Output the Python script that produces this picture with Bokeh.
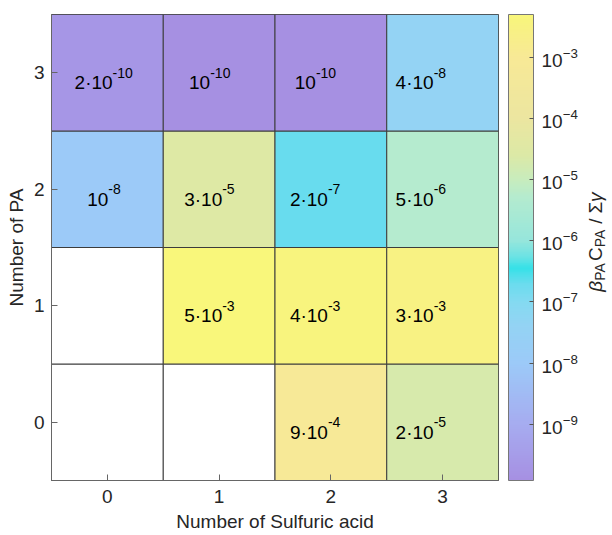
import math
import numpy as np
from bokeh.plotting import figure
from bokeh.layouts import row
from bokeh.models import (ColumnDataSource, LogColorMapper, ColorBar, FixedTicker, Range1d,
                          LogTickFormatter)
from bokeh.core.properties import value
from bokeh.embed import file_html
from bokeh.resources import INLINE

# ---------------- data ----------------
n_sulfuric = [0, 1, 2, 3]          # x categories
n_pa = [0, 1, 2, 3]                # y categories
# beta_PA C_PA / sum(gamma) for each number of PA (rows), per number of sulfuric acid (columns)
ratio_pa0 = [np.nan, np.nan, 9e-4, 2e-5]
ratio_pa1 = [np.nan, 5e-3, 4e-3, 3e-3]
ratio_pa2 = [1e-8, 3e-5, 2e-7, 5e-6]
ratio_pa3 = [2e-10, 1e-10, 1e-10, 4e-8]
cbar_low = 1.2e-10
cbar_high = 5e-3
cbar_ticks = [1e-9, 1e-8, 1e-7, 1e-6, 1e-5, 1e-4, 1e-3]

x_title = "Number of Sulfuric acid"
y_title = "Number of PA"

# ---------------- style ----------------
FONT = "Liberation Sans"
TXT = "#262626"
F_MAIN = 19
F_SUP = 14
W = {'0': .556, '1': .556, '2': .556, '3': .556, '4': .556, '5': .556, '6': .556, '7': .556,
     '8': .556, '9': .556, '·': .30, '-': .333, ' ': .278, '/': .278, 'P': .667, 'A': .667,
     'C': .722, 'β': .575, 'γ': .46, 'Σ': .57}


def tw(s, size):
    return sum(W.get(c, .556) for c in s) * size


# colormap anchors (log10 value -> colour), interpolated to a 256 palette
anchors = [(-10.0, "#a68de1"), (-9.0, "#a6acf0"), (-8.0, "#9ccaf8"), (-7.4, "#94d3f4"),
           (-7.0, "#84daf1"), (-6.7, "#6adcee"), (-6.45, "#36e1e8"), (-6.25, "#6ee3e4"),
           (-6.0, "#96e6dc"), (-5.3, "#b4ebcf"), (-5.0, "#c8ecbd"), (-4.6, "#dce9a6"),
           (-4.0, "#ece6a0"), (-3.0, "#f8e996"), (-2.5, "#f8f282"), (-2.3, "#f9f77a")]


def hex2rgb(h):
    return [int(h[i:i + 2], 16) for i in (1, 3, 5)]


lo, hi = math.log10(cbar_low), math.log10(cbar_high)
ax = [a[0] for a in anchors]
acol = np.array([hex2rgb(a[1]) for a in anchors], dtype=float)
palette = []
for i in range(256):
    lv = lo + (hi - lo) * (i + 0.5) / 256
    rgb = [np.interp(lv, ax, acol[:, k]) for k in range(3)]
    palette.append("#%02x%02x%02x" % tuple(int(round(c)) for c in rgb))

mapper = LogColorMapper(palette=palette, low=cbar_low, high=cbar_high, nan_color="white")

# ---------------- cell table ----------------
rows = [ratio_pa0, ratio_pa1, ratio_pa2, ratio_pa3]
xs, ys, vals = [], [], []
for r, rw in zip(n_pa, rows):
    for c, v in zip(n_sulfuric, rw):
        xs.append(c)
        ys.append(r)
        vals.append(v)
cells = ColumnDataSource(dict(x=xs, y=ys, v=vals))

tx, ty, base, expo, off = [], [], [], [], []
for x, y, v in zip(xs, ys, vals):
    if isinstance(v, float) and math.isnan(v):
        continue
    e = int(math.floor(math.log10(v) + 1e-9))
    m = int(round(v / 10 ** e))
    b = "10" if m == 1 else f"{m}·10"
    s = f"{e}"
    bw, ew = tw(b, F_MAIN), tw(s, F_SUP)
    tx.append(x - 0.03 - 0.054 * x)
    ty.append(y)
    base.append(b)
    expo.append(s)
    off.append((bw - ew) / 2)
labels = ColumnDataSource(dict(x=tx, y=ty, base=base, expo=expo, off=off))

# ---------------- main figure ----------------
FW, FH = 447, 466
TOP, BOTTOM = 14, 55
p = figure(frame_width=FW, frame_height=FH,
           x_range=Range1d(-0.5, 3.5), y_range=Range1d(-0.5, 3.5),
           output_backend="svg", toolbar_location=None,
           min_border_left=51, min_border_top=TOP, min_border_right=84, min_border_bottom=BOTTOM)
p.background_fill_color = "white"
p.border_fill_color = "white"
p.outline_line_color = "#555555"
p.xgrid.visible = False
p.ygrid.visible = False

p.rect(x="x", y="y", width=1, height=1, source=cells,
       fill_color={"field": "v", "transform": mapper},
       line_color="#3c3c3c", line_width=1)

p.text(x="x", y="y", text="base", source=labels, x_offset="off", y_offset=10,
       text_align="right", text_baseline="alphabetic",
       text_font=value(FONT), text_font_size=f"{F_MAIN}px", text_color="black")
p.text(x="x", y="y", text="expo", source=labels, x_offset="off", y_offset=0,
       text_align="left", text_baseline="alphabetic",
       text_font=value(FONT), text_font_size=f"{F_SUP}px", text_color="black")

for axis in (p.xaxis[0], p.yaxis[0]):
    axis.major_tick_in = 6
    axis.major_tick_out = 0
    axis.minor_tick_line_color = None
    axis.major_tick_line_color = "#666666"
    axis.axis_line_color = "#666666"
    axis.major_label_text_font = FONT
    axis.major_label_text_font_size = f"{F_MAIN}px"
    axis.major_label_text_color = TXT
    axis.axis_label_text_font = FONT
    axis.axis_label_text_font_size = f"{F_MAIN}px"
    axis.axis_label_text_font_style = "normal"
    axis.axis_label_text_color = TXT
p.xaxis.ticker = FixedTicker(ticks=n_sulfuric)
p.yaxis.ticker = FixedTicker(ticks=n_pa)
p.xaxis.axis_label = x_title
p.yaxis.axis_label = y_title
p.xaxis.major_label_standoff = 9
p.xaxis.axis_label_standoff = 5
p.yaxis.major_label_standoff = 7
p.yaxis.axis_label_standoff = 4

cb = ColorBar(color_mapper=mapper, ticker=FixedTicker(ticks=cbar_ticks),
              formatter=LogTickFormatter(),
              major_tick_in=4, major_tick_out=0, major_tick_line_color="#555555",
              minor_tick_line_color=None,
              major_label_text_font=FONT, major_label_text_font_size=f"{F_MAIN}px",
              major_label_text_color=TXT,
              bar_line_color="#777777", width=25, padding=0, margin=0,
              location=(10, 0), label_standoff=8,
              border_line_color=None, background_fill_color=None)
p.add_layout(cb, "right")

# ---------------- colour-bar title (rotated, reading upwards) ----------------
QW = 29
q = figure(frame_width=QW, frame_height=FH, x_range=Range1d(0, QW), y_range=p.y_range,
           output_backend="svg", toolbar_location=None,
           x_axis_location=None, y_axis_location=None,
           min_border_left=0, min_border_right=0, min_border_top=TOP, min_border_bottom=BOTTOM)
q.outline_line_color = None
q.grid.visible = False
q.background_fill_color = "white"
q.border_fill_color = "white"

px_per_y = FH / 4.0
# (text, size, style, baseline shift, gap before in px)
title_pieces = [("β", F_MAIN, "italic", 0, 0), ("PA", F_SUP, "normal", 4, 0),
                ("C", F_MAIN, "normal", 0, 1), ("PA", F_SUP, "normal", 4, 0),
                ("/", F_MAIN, "normal", 0, 5), ("Σ", F_MAIN, "normal", 0, 5),
                ("γ", F_MAIN, "italic", 0, 0.5)]
tot = sum(tw(s, f) + g for s, f, _, _, g in title_pieces)
centre = 3.5 - (242 - TOP) / px_per_y        # title centre, in the heat-map's y units
cursor = centre - (tot / 2) / px_per_y
base_x = 13
for s, f, st, dx, g in title_pieces:
    cursor += g / px_per_y
    q.text(x=[base_x + dx], y=[cursor], text=[s], angle=math.pi / 2,
           text_font=value(FONT), text_font_size=f"{f}px", text_font_style=st,
           text_color=TXT, text_baseline="alphabetic", text_align="left")
    cursor += tw(s, f) / px_per_y

layout = row(p, q, spacing=0)
open("out.html", "w").write(file_html(layout, INLINE))
